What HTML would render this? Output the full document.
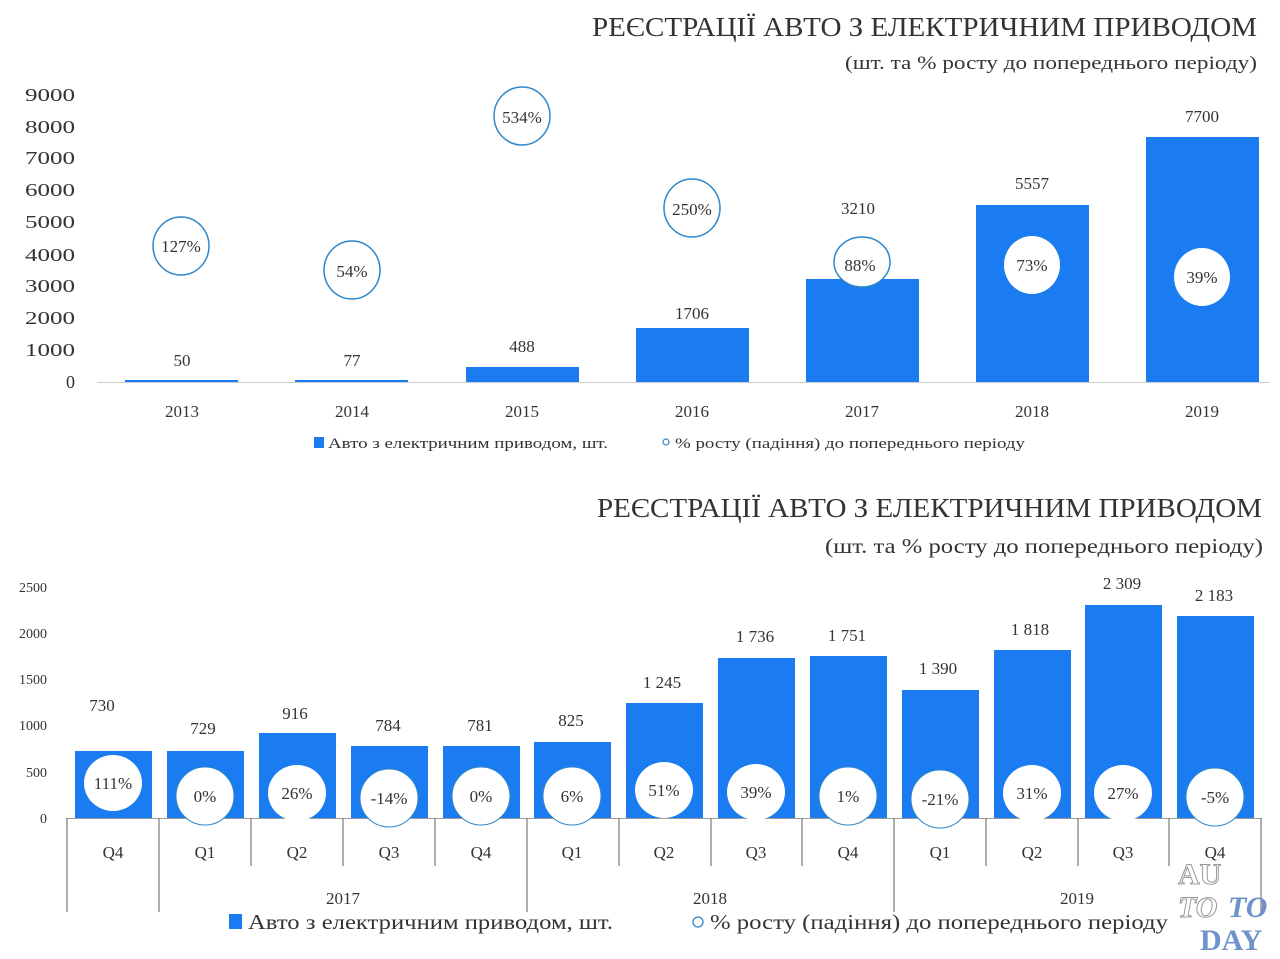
<!DOCTYPE html>
<html><head><meta charset="utf-8"><style>
html,body{margin:0;padding:0;background:#fff}
svg{display:block}
text{font-family:"Liberation Serif",serif;fill:#333}
</style></head><body>
<svg width="1280" height="959" viewBox="0 0 1280 959" xmlns="http://www.w3.org/2000/svg">
<!-- TOP CHART -->
<text x="1257" y="36" font-size="27" text-anchor="end" textLength="665" lengthAdjust="spacingAndGlyphs">РЕЄСТРАЦІЇ АВТО З ЕЛЕКТРИЧНИМ ПРИВОДОМ</text>
<text x="1257" y="69" font-size="19" text-anchor="end" textLength="412" lengthAdjust="spacingAndGlyphs">(шт. та % росту до попереднього періоду)</text>
<g font-size="18" text-anchor="end">
<text x="75" y="101" textLength="50" lengthAdjust="spacingAndGlyphs">9000</text><text x="75" y="133" textLength="50" lengthAdjust="spacingAndGlyphs">8000</text><text x="75" y="164" textLength="50" lengthAdjust="spacingAndGlyphs">7000</text>
<text x="75" y="196" textLength="50" lengthAdjust="spacingAndGlyphs">6000</text><text x="75" y="228" textLength="50" lengthAdjust="spacingAndGlyphs">5000</text><text x="75" y="261" textLength="50" lengthAdjust="spacingAndGlyphs">4000</text>
<text x="75" y="292" textLength="50" lengthAdjust="spacingAndGlyphs">3000</text><text x="75" y="324" textLength="50" lengthAdjust="spacingAndGlyphs">2000</text><text x="75" y="356" textLength="50" lengthAdjust="spacingAndGlyphs">1000</text>
<text x="75" y="388">0</text>
</g>
<line x1="97" y1="382.5" x2="1270" y2="382.5" stroke="#ccc" stroke-width="1"/>
<g fill="#1a7cf0">
<rect x="125" y="380" width="113" height="2"/>
<rect x="295" y="380" width="113" height="2"/>
<rect x="466" y="367" width="113" height="15"/>
<rect x="636" y="328" width="113" height="54"/>
<rect x="806" y="279" width="113" height="103"/>
<rect x="976" y="205" width="113" height="177"/>
<rect x="1146" y="137" width="113" height="245"/>
</g>
<g font-size="17" text-anchor="middle">
<text x="182" y="366">50</text><text x="352" y="366">77</text><text x="522" y="352">488</text>
<text x="692" y="319">1706</text><text x="858" y="214">3210</text><text x="1032" y="189">5557</text>
<text x="1202" y="122">7700</text>
<text x="182" y="417">2013</text><text x="352" y="417">2014</text><text x="522" y="417">2015</text>
<text x="692" y="417">2016</text><text x="862" y="417">2017</text><text x="1032" y="417">2018</text><text x="1202" y="417">2019</text>
</g>
<g stroke="#2f86c8" stroke-width="1.5" fill="#fff">
<ellipse cx="181" cy="246" rx="28" ry="29"/>
<ellipse cx="352" cy="270" rx="28" ry="29"/>
<ellipse cx="522" cy="116" rx="28" ry="29"/>
<ellipse cx="692" cy="208" rx="28" ry="29"/>
<ellipse cx="862" cy="262" rx="28" ry="25"/>
<ellipse cx="1032" cy="265" rx="28" ry="29" stroke="none"/>
<ellipse cx="1202" cy="277" rx="28" ry="29" stroke="none"/>
</g>
<g font-size="17" text-anchor="middle">
<text x="181" y="252">127%</text><text x="352" y="277">54%</text><text x="522" y="123">534%</text>
<text x="692" y="215">250%</text><text x="860" y="271">88%</text><text x="1032" y="271">73%</text>
<text x="1202" y="283">39%</text>
</g>
<rect x="314" y="437" width="10" height="11" fill="#1a7cf0"/>
<text x="328" y="448" font-size="15" textLength="280" lengthAdjust="spacingAndGlyphs">Авто з електричним приводом, шт.</text>
<circle cx="666" cy="442" r="3" fill="none" stroke="#2f86c8" stroke-width="1.2"/>
<text x="675" y="448" font-size="15" textLength="350" lengthAdjust="spacingAndGlyphs">% росту (падіння) до попереднього періоду</text>

<!-- BOTTOM CHART -->
<text x="1262" y="517" font-size="27" text-anchor="end" textLength="665" lengthAdjust="spacingAndGlyphs">РЕЄСТРАЦІЇ АВТО З ЕЛЕКТРИЧНИМ ПРИВОДОМ</text>
<text x="1263" y="553" font-size="21" text-anchor="end" textLength="438" lengthAdjust="spacingAndGlyphs">(шт. та % росту до попереднього періоду)</text>
<g font-size="14" text-anchor="end">
<text x="47" y="592">2500</text><text x="47" y="638">2000</text><text x="47" y="684">1500</text>
<text x="47" y="730">1000</text><text x="47" y="777">500</text><text x="47" y="823">0</text>
</g>
<line x1="66" y1="818.5" x2="1262" y2="818.5" stroke="#999" stroke-width="1"/>
<g fill="#1a7cf0">
<rect x="75" y="751" width="77" height="67"/>
<rect x="167" y="751" width="77" height="67"/>
<rect x="259" y="733" width="77" height="85"/>
<rect x="351" y="746" width="77" height="72"/>
<rect x="443" y="746" width="77" height="72"/>
<rect x="534" y="742" width="77" height="76"/>
<rect x="626" y="703" width="77" height="115"/>
<rect x="718" y="658" width="77" height="160"/>
<rect x="810" y="656" width="77" height="162"/>
<rect x="902" y="690" width="77" height="128"/>
<rect x="994" y="650" width="77" height="168"/>
<rect x="1085" y="605" width="77" height="213"/>
<rect x="1177" y="616" width="77" height="202"/>
</g>
<g stroke="#2f86c8" stroke-width="1" fill="#fff">
<ellipse cx="113" cy="783" rx="29" ry="28" stroke="none"/>
<ellipse cx="205" cy="796" rx="29" ry="29"/>
<ellipse cx="297" cy="793" rx="29" ry="28" stroke="none"/>
<ellipse cx="389" cy="798" rx="29" ry="29"/>
<ellipse cx="481" cy="796" rx="29" ry="29"/>
<ellipse cx="572" cy="796" rx="29" ry="29"/>
<ellipse cx="664" cy="790" rx="29" ry="28" stroke="none"/>
<ellipse cx="756" cy="792" rx="29" ry="28" stroke="none"/>
<ellipse cx="848" cy="796" rx="29" ry="29"/>
<ellipse cx="940" cy="799" rx="29" ry="29"/>
<ellipse cx="1032" cy="793" rx="29" ry="28" stroke="none"/>
<ellipse cx="1123" cy="793" rx="29" ry="28" stroke="none"/>
<ellipse cx="1215" cy="797" rx="29" ry="29"/>
</g>
<g font-size="17" text-anchor="middle">
<text x="113" y="789">111%</text><text x="205" y="802">0%</text><text x="297" y="799">26%</text>
<text x="389" y="804">-14%</text><text x="481" y="802">0%</text><text x="572" y="802">6%</text>
<text x="664" y="796">51%</text><text x="756" y="798">39%</text><text x="848" y="802">1%</text>
<text x="940" y="805">-21%</text><text x="1032" y="799">31%</text><text x="1123" y="799">27%</text>
<text x="1215" y="803">-5%</text>
</g>
<g font-size="17" text-anchor="middle">
<text x="102" y="711">730</text><text x="203" y="734">729</text><text x="295" y="719">916</text>
<text x="388" y="731">784</text><text x="480" y="731">781</text><text x="571" y="726">825</text>
<text x="662" y="688">1 245</text><text x="755" y="642">1 736</text><text x="847" y="641">1 751</text>
<text x="938" y="674">1 390</text><text x="1030" y="635">1 818</text><text x="1122" y="589">2 309</text>
<text x="1214" y="601">2 183</text>
</g>
<g stroke="#777" stroke-width="1.2">
<line x1="67" y1="818" x2="67" y2="912"/>
<line x1="159" y1="818" x2="159" y2="912"/>
<line x1="251" y1="818" x2="251" y2="866"/>
<line x1="343" y1="818" x2="343" y2="866"/>
<line x1="435" y1="818" x2="435" y2="866"/>
<line x1="527" y1="818" x2="527" y2="912"/>
<line x1="619" y1="818" x2="619" y2="866"/>
<line x1="711" y1="818" x2="711" y2="866"/>
<line x1="802" y1="818" x2="802" y2="866"/>
<line x1="894" y1="818" x2="894" y2="912"/>
<line x1="986" y1="818" x2="986" y2="866"/>
<line x1="1078" y1="818" x2="1078" y2="866"/>
<line x1="1169" y1="818" x2="1169" y2="866"/>
<line x1="1261" y1="818" x2="1261" y2="912"/>
</g>
<g font-size="17" text-anchor="middle">
<text x="113" y="858">Q4</text><text x="205" y="858">Q1</text><text x="297" y="858">Q2</text>
<text x="389" y="858">Q3</text><text x="481" y="858">Q4</text><text x="572" y="858">Q1</text>
<text x="664" y="858">Q2</text><text x="756" y="858">Q3</text><text x="848" y="858">Q4</text>
<text x="940" y="858">Q1</text><text x="1032" y="858">Q2</text><text x="1123" y="858">Q3</text>
<text x="1215" y="858">Q4</text>
<text x="343" y="904">2017</text><text x="710" y="904">2018</text><text x="1077" y="904">2019</text>
</g>
<rect x="229" y="914" width="13" height="15" fill="#1a7cf0"/>
<text x="248" y="929" font-size="21" textLength="365" lengthAdjust="spacingAndGlyphs">Авто з електричним приводом, шт.</text>
<circle cx="698" cy="922" r="5" fill="none" stroke="#2f86c8" stroke-width="1.3"/>
<text x="710" y="929" font-size="21" textLength="458" lengthAdjust="spacingAndGlyphs">% росту (падіння) до попереднього періоду</text>
<!-- watermark -->
<g font-family="Liberation Serif,serif" font-weight="bold" font-size="30">
<text x="1178" y="884" style="fill:#fff" stroke="#999" stroke-width="1">AU</text>
<text x="1178" y="917" style="fill:#fff" stroke="#999" stroke-width="1" font-style="italic">TO</text>
<text x="1228" y="917" style="fill:#6f93c9" font-style="italic">TO</text>
<text x="1200" y="950" style="fill:#6f93c9">DAY</text>
</g>
</svg>
</body></html>
